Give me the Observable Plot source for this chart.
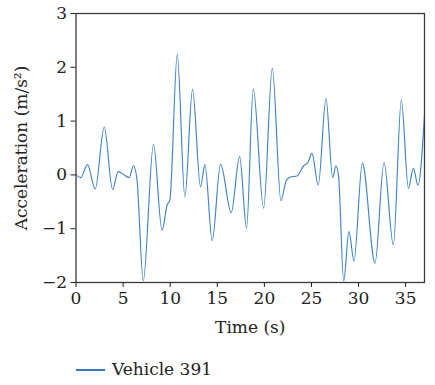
<!DOCTYPE html>
<html>
<head>
<meta charset="utf-8">
<script src="https://cdn.jsdelivr.net/npm/d3@7"></script>
<script src="https://cdn.jsdelivr.net/npm/@observablehq/plot@0.6"></script>
<style>
  body { margin: 0; background: #fff; font-family: "DejaVu Serif", "Liberation Serif", serif; }
  #chart svg { display: block; }
  .legend { position: relative; height: 35px; font-size: 17px; color: #222; }
  .legend .swatch { position: absolute; left: 76px; top: 19px; width: 29px; height: 2px; background: #3a78b8; }
  .legend .label { position: absolute; left: 112px; top: 9px; line-height: 20px; }
</style>
</head>
<body>
<div id="chart"></div>
<div class="legend"><span class="swatch"></span><span class="label">Vehicle 391</span></div>
<script>
// Acceleration trace of one vehicle over time
const time = [0, 0.5, 1.22, 2.04, 3.0, 3.88, 4.48, 4.94, 5.65, 6.1, 6.46, 7.14, 8.23, 9.13, 9.68, 9.97,
  10.75, 11.56, 12.37, 13.22, 13.69, 14.46, 15.35, 16.48, 17.37, 18.11, 18.82, 19.92, 20.84, 21.76,
  22.29, 22.75, 23.46, 24.17, 24.62, 25.05, 25.72, 26.54, 27.25, 27.6, 27.88, 28.42, 28.98, 29.51,
  30.4, 31.75, 32.7, 33.69, 34.54, 35.29, 35.82, 36.31, 37.0];
const accel = [0.0, -0.05, 0.19, -0.26, 0.89, -0.27, 0.06, 0.02, -0.05, 0.17, -0.06, -1.97, 0.57, -1.03, -0.56, -0.46,
  2.24, -0.41, 1.59, -0.22, 0.19, -1.22, 0.2, -0.7, 0.34, -0.99, 1.6, -0.62, 1.98, -0.48,
  -0.12, -0.04, -0.02, 0.17, 0.23, 0.4, -0.19, 1.42, -0.05, 0.17, -0.03, -1.97, -1.05, -1.6,
  0.22, -1.64, 0.23, -1.3, 1.39, -0.25, 0.12, -0.19, 1.11];
const xTicks = [0, 5, 10, 15, 20, 25, 30, 35];
const yTicks = [-2, -1, 0, 1, 2, 3];

const series = time.map((t, i) => ({t, a: accel[i]}));

const chart = Plot.plot({
  width: 435,
  height: 350,
  marginLeft: 75.5,
  marginRight: 11,
  marginTop: 13,
  marginBottom: 68,
  style: {fontFamily: "'DejaVu Serif', 'Liberation Serif', serif", fontSize: "17px", color: "#222", background: "#fff"},
  x: {domain: [0, 37]},
  y: {domain: [-2, 3]},
  marks: [
    Plot.line(series, {x: "t", y: "a", curve: "monotone-x", stroke: "#3f84c4", strokeWidth: 1.15}),
    Plot.frame({stroke: "#3a3a3a", strokeWidth: 1.3}),
    Plot.axisX({ticks: xTicks, tickSize: 5, tickPadding: 4, stroke: "#222", fontSize: 17, label: "Time (s)", labelAnchor: "center", labelArrow: "none", labelOffset: 50}),
    Plot.axisY({ticks: yTicks, tickSize: 5, tickPadding: 4, stroke: "#222", fontSize: 17, tickFormat: d => d < 0 ? "\u2212" + Math.abs(d) : String(d), label: "Acceleration (m/s\u00b2)", labelAnchor: "center", labelArrow: "none", labelOffset: 61})
  ]
});
document.getElementById("chart").appendChild(chart);
</script>
</body>
</html>
